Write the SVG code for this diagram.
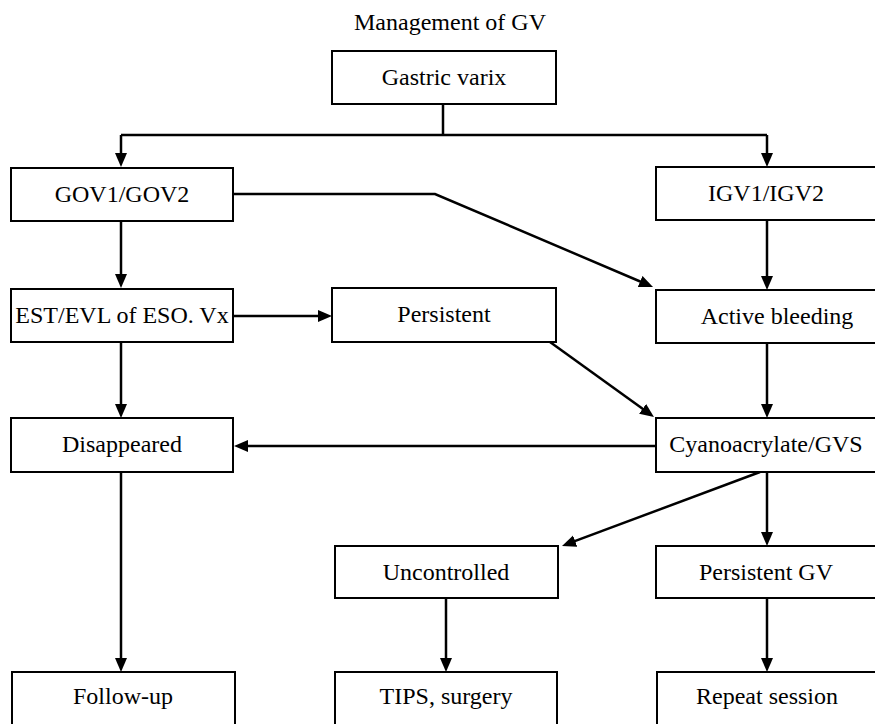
<svg xmlns="http://www.w3.org/2000/svg" width="875" height="724" viewBox="0 0 875 724">
  <style>
    .box { fill: #ffffff; stroke: #000000; stroke-width: 2; }
    .lbl { font-family: "Liberation Serif", "Times New Roman", serif; font-size: 24px; fill: #000000; text-anchor: middle; }
    .title { font-family: "Liberation Serif", "Times New Roman", serif; font-size: 24px; fill: #000000; text-anchor: middle; }
    .wire { fill: none; stroke: #000000; stroke-width: 2.5; stroke-linejoin: miter; }
    .arrow { fill: none; stroke: #000000; stroke-width: 2.5; marker-end: url(#head); }
  </style>
  <defs>
    <marker id="head" markerUnits="userSpaceOnUse" markerWidth="16" markerHeight="14" refX="9" refY="6" orient="auto">
      <path d="M0,0 L14,6 L0,12 Z" fill="#000000"/>
    </marker>
  </defs>

  <rect x="0" y="0" width="875" height="724" fill="#ffffff"/>

  <text class="title" x="450" y="30">Management of GV</text>

  <!-- connectors -->
  <g id="connectors">
    <path class="wire" d="M443,104 V135"/>
    <path class="wire" d="M121,135 H767"/>
    <path class="arrow" d="M121,135 V162"/>
    <path class="arrow" d="M767,135 V162"/>
    <path class="arrow" d="M233,194 H435 L648.4,285"/>
    <path class="arrow" d="M121,221 V283"/>
    <path class="arrow" d="M233,316 H327"/>
    <path class="arrow" d="M121,342 V413"/>
    <path class="arrow" d="M767,220 V285"/>
    <path class="arrow" d="M550,342 L649.9,414.1"/>
    <path class="arrow" d="M767,343 V413"/>
    <path class="arrow" d="M656,446 H239"/>
    <path class="arrow" d="M760,472 L566.7,544.2"/>
    <path class="arrow" d="M767,472 V541"/>
    <path class="arrow" d="M446,598 V667"/>
    <path class="arrow" d="M767,598 V667"/>
    <path class="arrow" d="M121,472 V667"/>
  </g>

  <!-- nodes -->
  <g id="gastric-varix">
    <rect class="box" x="332" y="51" width="224" height="53"/>
    <text class="lbl" x="444" y="85">Gastric varix</text>
  </g>
  <g id="gov">
    <rect class="box" x="11" y="168" width="222" height="53"/>
    <text class="lbl" x="122" y="202">GOV1/GOV2</text>
  </g>
  <g id="igv">
    <rect class="box" x="656" y="167" width="222" height="53"/>
    <text class="lbl" x="766" y="201">IGV1/IGV2</text>
  </g>
  <g id="est-evl">
    <rect class="box" x="11" y="289" width="222" height="53"/>
    <text class="lbl" x="122" y="323">EST/EVL of ESO. Vx</text>
  </g>
  <g id="persistent">
    <rect class="box" x="332" y="288" width="224" height="54"/>
    <text class="lbl" x="444" y="322">Persistent</text>
  </g>
  <g id="active-bleeding">
    <rect class="box" x="656" y="290" width="222" height="53"/>
    <text class="lbl" x="777" y="324">Active bleeding</text>
  </g>
  <g id="disappeared">
    <rect class="box" x="11" y="418" width="222" height="54"/>
    <text class="lbl" x="122" y="452">Disappeared</text>
  </g>
  <g id="cyanoacrylate">
    <rect class="box" x="656" y="418" width="222" height="54"/>
    <text class="lbl" x="766" y="452">Cyanoacrylate/GVS</text>
  </g>
  <g id="uncontrolled">
    <rect class="box" x="335" y="546" width="223" height="52"/>
    <text class="lbl" x="446" y="580">Uncontrolled</text>
  </g>
  <g id="persistent-gv">
    <rect class="box" x="656" y="546" width="222" height="52"/>
    <text class="lbl" x="766" y="580">Persistent GV</text>
  </g>
  <g id="follow-up">
    <rect class="box" x="12" y="672" width="223" height="60"/>
    <text class="lbl" x="123" y="704">Follow-up</text>
  </g>
  <g id="tips-surgery">
    <rect class="box" x="335" y="672" width="222" height="60"/>
    <text class="lbl" x="446" y="704">TIPS, surgery</text>
  </g>
  <g id="repeat-session">
    <rect class="box" x="657" y="672" width="222" height="60"/>
    <text class="lbl" x="767" y="704">Repeat session</text>
  </g>
</svg>
